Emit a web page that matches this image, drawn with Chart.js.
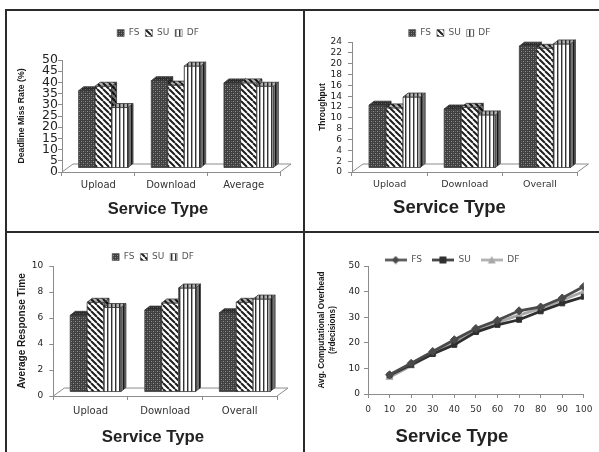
<!DOCTYPE html>
<html>
<head>
<meta charset="utf-8">
<script src="https://cdn.jsdelivr.net/npm/chart.js@4.4.0/dist/chart.umd.min.js"></script>
<style>
  html, body { margin: 0; padding: 0; background: #fff; }
  #fig { position: relative; width: 599px; height: 452px; overflow: hidden; }
  #fig canvas { position: absolute; }
  .rule { position: absolute; background: #2b2b2b; }
</style>
</head>
<body>
<div id="fig">
  <canvas id="missChart" width="296" height="220" style="left:7px;top:11px"></canvas>
  <canvas id="thrChart" width="294" height="220" style="left:305px;top:11px"></canvas>
  <canvas id="artChart" width="296" height="219" style="left:7px;top:233px"></canvas>
  <canvas id="ovhChart" width="294" height="219" style="left:305px;top:233px"></canvas>
  <div class="rule" style="left:5px;top:9px;width:594px;height:2px"></div>
  <div class="rule" style="left:5px;top:9px;width:2px;height:443px"></div>
  <div class="rule" style="left:303px;top:9px;width:2px;height:443px"></div>
  <div class="rule" style="left:5px;top:231px;width:594px;height:2px"></div>
</div>
<script>
// schemes compared in every panel
const schemes = ['FS', 'SU', 'DF'];

// deadline miss rate (%)
const missCats = ['Upload', 'Download', 'Average'];
const missFS = [34.5, 39, 38];
const missSU = [36.5, 37, 38];
const missDF = [27, 45.5, 36.5];

// throughput
const thrCats = ['Upload', 'Download', 'Overall'];
const thrFS = [11.6, 10.9, 22.5];
const thrSU = [11.1, 11.2, 22.1];
const thrDF = [13.1, 9.8, 22.9];

// average response time
const artCats = ['Upload', 'Download', 'Overall'];
const artFS = [5.9, 6.3, 6.1];
const artSU = [6.9, 6.85, 6.9];
const artDF = [6.5, 8.0, 7.15];

// avg. computational overhead (#decisions) vs number of services
const nServices = [10, 20, 30, 40, 50, 60, 70, 80, 90, 100];
const ovhFS = [7.5, 12, 16.6, 21.2, 25.6, 28.8, 32.5, 34, 37.5, 42];
const ovhSU = [7.3, 11.4, 15.6, 19.2, 24.2, 27, 29, 32.3, 35.4, 38];
const ovhDF = [6.5, 11, 15.8, 20, 24.6, 28, 30.8, 33.4, 36.6, 40];

Chart.defaults.font.family = 'DejaVu Sans';
Chart.defaults.color = '#333';
const axisGray = '#8c8c8c';

function tile(w, h, paint) {
  const c = document.createElement('canvas');
  c.width = w;
  c.height = h;
  const g = c.getContext('2d');
  paint(g);
  return g.createPattern(c, 'repeat');
}

// FS: dark mesh, SU: diagonal hatch, DF: vertical stripes
const fills = [
  tile(4, 4, g => {
    g.fillStyle = '#404040'; g.fillRect(0, 0, 4, 4);
    g.fillStyle = '#8e8e8e'; g.fillRect(0, 0, 1, 1); g.fillRect(2, 2, 1, 1);
    g.fillStyle = '#646464'; g.fillRect(2, 0, 1, 1); g.fillRect(0, 2, 1, 1);
  }),
  tile(6, 6, g => {
    g.fillStyle = '#fff'; g.fillRect(0, 0, 6, 6);
    g.strokeStyle = '#1e1e1e'; g.lineWidth = 2;
    g.beginPath();
    for (const k of [-6, 0, 6]) { g.moveTo(k, 0); g.lineTo(k + 6, 6); }
    g.stroke();
  }),
  tile(4, 1, g => {
    g.fillStyle = '#fff'; g.fillRect(0, 0, 4, 1);
    g.fillStyle = '#333'; g.fillRect(0, 0, 1, 1);
    g.fillStyle = '#aaa'; g.fillRect(1, 0, 1, 1);
  })
];

// extra room under the legend (can be negative)
const legendGap = {
  id: 'legendGap',
  beforeInit(chart, args, opts) {
    const fit = chart.legend.fit;
    chart.legend.fit = function () {
      fit.call(this);
      this.height += opts.gap || 0;
    };
  }
};

function face(ctx, pts, fill, shade) {
  ctx.beginPath();
  pts.forEach(([x, y], i) => (i ? ctx.lineTo(x, y) : ctx.moveTo(x, y)));
  ctx.closePath();
  ctx.fillStyle = fill;
  ctx.fill();
  if (shade) {
    ctx.fillStyle = shade;
    ctx.fill();
  }
  ctx.stroke();
}

// pseudo-3D columns on a floor, drawn from the bar elements' geometry
const bars3d = {
  id: 'bars3d',
  beforeDatasetDraw() {
    return false;
  },
  beforeDatasetsDraw(chart, args, opts) {
    const {ctx, chartArea: a, scales: {y}} = chart;
    const y0 = y.getPixelForValue(0);
    const [fx, fy] = opts.floor;
    ctx.save();
    ctx.strokeStyle = axisGray;
    ctx.lineWidth = 1;
    ctx.beginPath();
    ctx.moveTo(a.left, y0);
    ctx.lineTo(a.left + fx, y0 - fy);
    ctx.lineTo(a.right + fx, y0 - fy);
    ctx.lineTo(a.right, y0);
    ctx.stroke();
    ctx.restore();
  },
  afterDatasetsDraw(chart, args, opts) {
    const ctx = chart.ctx;
    const [sx, sy] = opts.shift;
    const [dx, dy] = opts.depth;
    const sets = chart.data.datasets;
    ctx.save();
    ctx.lineWidth = 0.8;
    ctx.strokeStyle = '#3a3a3a';
    chart.data.labels.forEach((lbl, j) => {
      sets.forEach((ds, i) => {
        const bar = chart.getDatasetMeta(i).data[j];
        const {x, y, base, width} = bar.getProps(['x', 'y', 'base', 'width'], true);
        const l = x - width / 2 + sx, r = x + width / 2 + sx;
        const t = y - sy, b = base - sy;
        face(ctx, [[l, t], [r, t], [r, b], [l, b]], ds.backgroundColor);
        face(ctx, [[r, t], [r + dx, t - dy], [r + dx, b - dy], [r, b]], ds.backgroundColor, 'rgba(0,0,0,0.55)');
        face(ctx, [[l, t], [l + dx, t - dy], [r + dx, t - dy], [r, t]], ds.backgroundColor, 'rgba(0,0,0,0.3)');
      });
    });
    ctx.restore();
  }
};

function barPanel(id, cats, series, o) {
  return new Chart(document.getElementById(id), {
    type: 'bar',
    data: {
      labels: cats,
      datasets: schemes.map((s, i) => ({
        label: s,
        data: series[i],
        backgroundColor: fills[i],
        borderColor: '#555',
        borderWidth: 0.6,
        categoryPercentage: 0.68,
        barPercentage: 1
      }))
    },
    options: {
      responsive: false,
      animation: false,
      devicePixelRatio: 1,
      events: [],
      layout: { padding: { left: o.left, right: o.right, top: o.top, bottom: 0 } },
      scales: {
        x: {
          afterFit: s => { s.height = o.xh; },
          grid: { drawOnChartArea: false, tickLength: 4, color: axisGray },
          border: { color: axisGray },
          ticks: { padding: o.xpad, color: '#333', maxRotation: 0, font: { size: o.catSize } }
        },
        y: {
          min: 0,
          max: o.max,
          afterFit: s => { s.width = o.yw; },
          grid: { drawOnChartArea: false, tickLength: 4, color: axisGray },
          border: { color: axisGray },
          ticks: { stepSize: o.step, autoSkip: false, padding: o.ypad, color: '#222', font: { size: o.tickSize } },
          title: {
            display: true,
            text: o.ytitle,
            color: '#1a1a1a',
            padding: { top: o.ytpad, bottom: 0 },
            font: { family: 'Liberation Sans', weight: 'bold', size: o.ytsize }
          }
        }
      },
      plugins: {
        legend: {
          labels: { boxWidth: 7, boxHeight: 7, padding: 6, color: '#555', font: { size: 9 } }
        },
        legendGap: { gap: o.gap },
        title: {
          display: true,
          position: 'bottom',
          text: 'Service Type',
          color: '#222',
          padding: { top: 0, bottom: o.tpad },
          font: { family: 'Liberation Sans', weight: 'bold', size: o.tsize }
        },
        tooltip: { enabled: false },
        bars3d: { shift: [5, 4], depth: [5, 4], floor: [11, 8] }
      }
    },
    plugins: [legendGap, bars3d]
  });
}

barPanel('missChart', missCats, [missFS, missSU, missDF], {
  left: 29, right: 23, top: 11.5, gap: 12.5, yw: 26, xh: 27.1, xpad: 3,
  catSize: 10, tickSize: 12.5, ypad: 0, max: 50, step: 5,
  ytitle: 'Deadline Miss Rate (%)', ytsize: 8.7, ytpad: -19.2,
  tsize: 16.5, tpad: 12.1
});

barPanel('thrChart', thrCats, [thrFS, thrSU, thrDF], {
  left: 16.5, right: 21.5, top: 11.5, gap: -5.5, yw: 30.5, xh: 24.9, xpad: 3.3,
  catSize: 9.5, tickSize: 9, ypad: 6, max: 24, step: 2,
  ytitle: 'Throughput', ytsize: 8.5, ytpad: -3.6,
  tsize: 18.5, tpad: 11.9
});

barPanel('artChart', artCats, [artFS, artSU, artDF], {
  left: 22, right: 26, top: 13.5, gap: -5.5, yw: 24.3, xh: 30.9, xpad: 5,
  catSize: 10, tickSize: 9, ypad: 6, max: 10, step: 2,
  ytitle: 'Average Response Time', ytsize: 10, ytpad: -13,
  tsize: 16.8, tpad: 4.9
});

// legend swatch: a short line with the series marker on it
function lineIcon(color, shape) {
  const c = document.createElement('canvas');
  c.width = 22;
  c.height = 9;
  const g = c.getContext('2d');
  g.strokeStyle = color;
  g.fillStyle = color;
  g.lineWidth = 2.5;
  g.beginPath(); g.moveTo(0, 4.5); g.lineTo(22, 4.5); g.stroke();
  g.beginPath();
  if (shape === 'rectRot') {
    g.moveTo(11, 0.5); g.lineTo(15, 4.5); g.lineTo(11, 8.5); g.lineTo(7, 4.5);
  } else if (shape === 'rect') {
    g.rect(7.5, 1, 7, 7);
  } else {
    g.moveTo(11, 0.5); g.lineTo(15, 8); g.lineTo(7, 8);
  }
  g.closePath();
  g.fill();
  return c;
}

const ovhStyles = [
  { color: '#4a4a4a', shape: 'rectRot', radius: 4 },
  { color: '#2f2f2f', shape: 'rect', radius: 3.5 },
  { color: '#a8a8a8', shape: 'triangle', radius: 4 }
];
const ovhIcons = ovhStyles.map(s => lineIcon(s.color, s.shape));

new Chart(document.getElementById('ovhChart'), {
  type: 'line',
  data: {
    datasets: [ovhFS, ovhSU, ovhDF].map((vals, i) => ({
      label: schemes[i],
      data: nServices.map((n, k) => ({ x: n, y: vals[k] })),
      borderColor: ovhStyles[i].color,
      backgroundColor: ovhStyles[i].color,
      borderWidth: 2.8,
      pointStyle: ovhStyles[i].shape,
      pointRadius: ovhStyles[i].radius,
      pointBorderWidth: 1,
      tension: 0
    }))
  },
  options: {
    responsive: false,
    animation: false,
    devicePixelRatio: 1,
    events: [],
    layout: { padding: { left: 11, right: 11, top: 12.5, bottom: 0 } },
    scales: {
      x: {
        type: 'linear',
        min: 0,
        max: 100,
        afterFit: s => { s.height = 31.9; },
        grid: { drawOnChartArea: false, tickLength: 4, color: axisGray },
        border: { color: axisGray },
        ticks: { stepSize: 10, autoSkip: false, maxRotation: 0, padding: 6.6, color: '#333', font: { size: 9 } }
      },
      y: {
        min: 0,
        max: 50,
        afterFit: s => { s.width = 52; },
        grid: { drawOnChartArea: false, tickLength: 4, color: axisGray },
        border: { color: axisGray },
        ticks: { stepSize: 10, padding: 4, color: '#222', font: { size: 9 } },
        title: {
          display: true,
          text: ['Avg. Computational Overhead', '(#decisions)'],
          color: '#1a1a1a',
          padding: { top: 0.5, bottom: 0 },
          font: { family: 'Liberation Sans', weight: 'bold', size: 8.2, lineHeight: 1.34 }
        }
      }
    },
    plugins: {
      legend: {
        labels: {
          usePointStyle: true,
          pointStyleWidth: 22,
          padding: 10,
          color: '#555',
          font: { size: 9 },
          generateLabels(chart) {
            const items = Chart.defaults.plugins.legend.labels.generateLabels(chart);
            items.forEach((it, i) => { it.pointStyle = ovhIcons[i]; });
            return items;
          }
        }
      },
      legendGap: { gap: -8.5 },
      title: {
        display: true,
        position: 'bottom',
        text: 'Service Type',
        color: '#222',
        padding: { top: 0, bottom: 3.9 },
        font: { family: 'Liberation Sans', weight: 'bold', size: 18.5 }
      },
      tooltip: { enabled: false }
    }
  },
  plugins: [legendGap]
});
</script>
</body>
</html>
